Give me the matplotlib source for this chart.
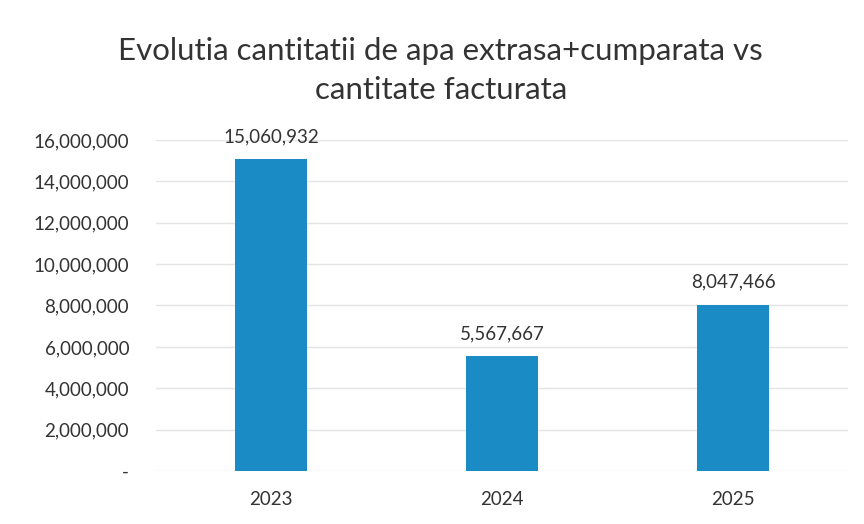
import matplotlib
matplotlib.use('Agg')
import matplotlib.pyplot as plt
from matplotlib.ticker import FuncFormatter

years = ['2023', '2024', '2025']
cantitati = [15060932, 5567667, 8047466]
yticks = [0, 2000000, 4000000, 6000000, 8000000, 10000000, 12000000, 14000000, 16000000]

plt.rcParams['font.family'] = ['Lato', 'DejaVu Sans']

fig = plt.figure(figsize=(8.64, 5.24), dpi=100)
ax = fig.add_axes([0.18, 0.101, 0.802, 0.632])

x = range(len(years))
bars = ax.bar(x, cantitati, width=0.31, color='#1a8bc4', zorder=3)

ax.set_xlim(-0.5, 2.5)
ax.set_ylim(0, 16000000)
ax.set_yticks(yticks)
ax.yaxis.set_major_formatter(FuncFormatter(lambda v, p: '-' if v == 0 else f'{int(v):,}'))
ax.set_xticks(list(x))
ax.set_xticklabels(years)
ax.grid(axis='y', color='#e4e4e4', linewidth=1, zorder=0)
for s in ax.spines.values():
    s.set_visible(False)
ax.tick_params(axis='both', length=0, labelsize=13.5, colors='#333333')
ax.tick_params(axis='x', pad=14)
ax.tick_params(axis='y', pad=19)

for b, v in zip(bars, cantitati):
    ax.annotate(f'{v:,}', (b.get_x() + b.get_width() / 2, v),
                xytext=(0, 10), textcoords='offset points',
                ha='center', va='bottom', fontsize=13.5, color='#333333')

fig.text(0.51, 0.865, 'Evolutia cantitatii de apa extrasa+cumparata vs\ncantitate facturata',
         ha='center', va='center', fontsize=22.5, color='#333333', linespacing=1.5)

fig.savefig('out.png', dpi=100)
